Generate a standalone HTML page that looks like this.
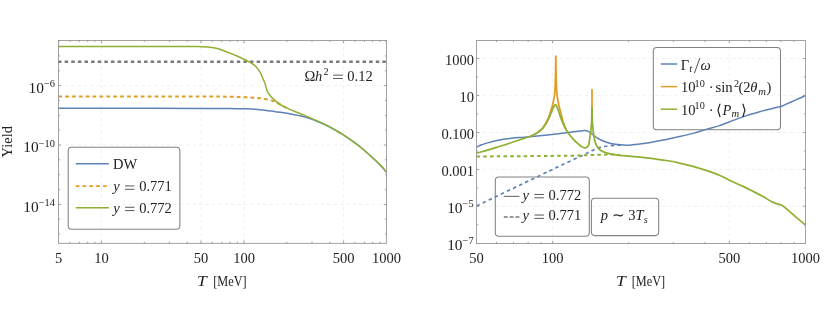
<!DOCTYPE html>
<html><head><meta charset="utf-8"><title>plot</title>
<style>html,body{margin:0;padding:0;background:#fff}svg{display:block;will-change:transform}</style></head>
<body>
<svg width="830" height="317" viewBox="0 0 830 317">
<rect width="830" height="317" fill="#fff"/>
<g stroke="#ececec" stroke-width="0.8" stroke-dasharray="3.2 3.2" fill="none">
<path d="M101.4,40.5 V243.3"/>
<path d="M201.0,40.5 V243.3"/>
<path d="M244.0,40.5 V243.3"/>
<path d="M343.6,40.5 V243.3"/>
<path d="M58.5,85.6 H386.5"/>
<path d="M58.5,145.0 H386.5"/>
<path d="M58.5,204.4 H386.5"/>
</g>
<path d="M58.0,61.8 H386.5" stroke="#7a7a7a" stroke-width="2.6" stroke-dasharray="3.5 3.12" fill="none"/>
<path d="M58.0,108.3 C73.3,108.3 126.3,108.3 150.0,108.3 C173.7,108.3 186.7,108.4 200.0,108.4 C213.3,108.5 222.5,108.5 230.0,108.6 C237.5,108.7 240.0,108.6 245.0,108.8 C250.0,109.0 255.1,109.2 260.2,109.7 C265.2,110.2 270.2,111.0 275.3,111.7 C280.4,112.4 285.8,113.1 290.5,113.9 C295.2,114.7 299.2,115.4 303.3,116.5 C307.4,117.6 311.2,119.0 314.9,120.4 C318.5,121.8 321.4,122.9 325.2,124.7 C329.0,126.5 334.6,129.7 337.8,131.5 C341.0,133.3 342.0,134.0 344.1,135.3 C346.2,136.7 348.3,138.1 350.4,139.6 C352.5,141.1 354.6,142.5 356.7,144.1 C358.8,145.7 360.9,147.4 363.0,149.2 C365.1,151.0 367.2,152.8 369.3,154.7 C371.4,156.6 373.5,158.5 375.6,160.5 C377.7,162.5 380.1,164.8 381.9,166.8 C383.7,168.8 385.7,171.4 386.5,172.3" stroke="#5e81b5" stroke-width="1.5" fill="none"/>
<path d="M58.5,96.5 C82.1,96.5 171.4,96.5 200.0,96.5 C228.6,96.5 222.5,96.7 230.0,96.8 C237.5,96.9 240.5,97.0 245.0,97.2 C249.5,97.4 253.8,97.6 257.1,97.9 C260.4,98.2 262.2,98.5 264.7,99.0 C267.2,99.5 270.1,100.1 272.3,100.8 C274.5,101.5 275.8,102.1 277.6,103.0 C279.4,103.9 281.2,105.2 282.9,106.1 C284.6,107.0 287.1,108.2 288.0,108.6" stroke="#e19c24" stroke-width="2.0" stroke-dasharray="3.7 3.155" fill="none"/>
<path d="M58.0,46.4 C79.2,46.4 162.2,46.4 185.0,46.4 C207.8,46.4 192.5,46.5 195.0,46.5 C197.5,46.5 198.1,46.6 200.1,46.7 C202.1,46.8 204.5,46.8 207.0,47.0 C209.5,47.2 212.4,47.4 215.0,47.9 C217.6,48.4 220.1,49.3 222.6,50.2 C225.1,51.1 227.6,52.1 230.1,53.1 C232.6,54.1 235.4,55.3 237.7,56.3 C240.0,57.3 242.1,58.3 244.0,59.2 C245.9,60.1 247.3,60.8 249.0,61.8 C250.7,62.8 252.6,63.9 254.1,65.1 C255.6,66.3 256.8,67.4 257.9,68.9 C259.0,70.4 260.2,72.4 261.0,73.9 C261.8,75.4 262.1,76.6 262.7,78.0 C263.3,79.4 264.0,81.0 264.5,82.3 C265.0,83.6 265.2,84.2 265.6,85.6 C266.0,87.0 266.4,89.1 267.0,90.5 C267.6,91.9 268.2,92.8 269.2,94.2 C270.2,95.6 271.6,97.4 273.0,98.8 C274.4,100.2 276.0,101.4 277.6,102.6 C279.2,103.8 280.8,104.9 282.9,106.1 C285.0,107.3 288.0,108.5 290.5,109.6 C293.0,110.7 295.9,111.8 298.0,112.7 C300.1,113.6 300.9,113.9 303.3,114.9 C305.7,115.9 309.0,117.3 312.6,118.9 C316.2,120.5 321.0,122.6 325.2,124.7 C329.4,126.8 334.6,129.7 337.8,131.5 C341.0,133.3 342.0,134.0 344.1,135.3 C346.2,136.7 348.3,138.1 350.4,139.6 C352.5,141.1 354.6,142.5 356.7,144.1 C358.8,145.7 360.9,147.4 363.0,149.2 C365.1,151.0 367.2,152.8 369.3,154.7 C371.4,156.6 373.5,158.5 375.6,160.5 C377.7,162.5 380.1,164.8 381.9,166.8 C383.7,168.8 385.7,171.4 386.5,172.3" stroke="#8fb032" stroke-width="1.5" fill="none" stroke-linejoin="round"/>
<g stroke="#8c8c8c" stroke-width="0.8" fill="none">
<rect x="58.5" y="40.5" width="328.0" height="202.8"/>
<path d="M69.8,243.3 v-1.6 M69.8,40.5 v1.6 M79.3,243.3 v-1.6 M79.3,40.5 v1.6 M87.6,243.3 v-1.6 M87.6,40.5 v1.6 M94.9,243.3 v-1.6 M94.9,40.5 v1.6 M144.3,243.3 v-1.6 M144.3,40.5 v1.6 M169.4,243.3 v-1.6 M169.4,40.5 v1.6 M187.2,243.3 v-1.6 M187.2,40.5 v1.6 M212.3,243.3 v-1.6 M212.3,40.5 v1.6 M221.9,243.3 v-1.6 M221.9,40.5 v1.6 M230.1,243.3 v-1.6 M230.1,40.5 v1.6 M237.4,243.3 v-1.6 M237.4,40.5 v1.6 M286.9,243.3 v-1.6 M286.9,40.5 v1.6 M312.0,243.3 v-1.6 M312.0,40.5 v1.6 M329.8,243.3 v-1.6 M329.8,40.5 v1.6 M354.9,243.3 v-1.6 M354.9,40.5 v1.6 M364.4,243.3 v-1.6 M364.4,40.5 v1.6 M372.7,243.3 v-1.6 M372.7,40.5 v1.6 M380.0,243.3 v-1.6 M380.0,40.5 v1.6 M101.4,243.3 v-2.7 M101.4,40.5 v2.7 M201.0,243.3 v-2.7 M201.0,40.5 v2.7 M244.0,243.3 v-2.7 M244.0,40.5 v2.7 M343.6,243.3 v-2.7 M343.6,40.5 v2.7 M58.5,234.1 h1.6 M386.5,234.1 h-1.6 M58.5,219.2 h1.6 M386.5,219.2 h-1.6 M58.5,204.4 h2.7 M386.5,204.4 h-2.7 M58.5,189.6 h1.6 M386.5,189.6 h-1.6 M58.5,174.7 h1.6 M386.5,174.7 h-1.6 M58.5,159.8 h1.6 M386.5,159.8 h-1.6 M58.5,145.0 h2.7 M386.5,145.0 h-2.7 M58.5,130.1 h1.6 M386.5,130.1 h-1.6 M58.5,115.3 h1.6 M386.5,115.3 h-1.6 M58.5,100.4 h1.6 M386.5,100.4 h-1.6 M58.5,85.6 h2.7 M386.5,85.6 h-2.7 M58.5,70.8 h1.6 M386.5,70.8 h-1.6 M58.5,55.9 h1.6 M386.5,55.9 h-1.6 M58.5,41.0 h1.6 M386.5,41.0 h-1.6"/>
</g>
<g font-family="Liberation Serif, serif" font-size="14.5" fill="#222">
<text x="58.5" y="262.6" text-anchor="middle">5</text>
<text x="101.4" y="262.6" text-anchor="middle">10</text>
<text x="201.0" y="262.6" text-anchor="middle">50</text>
<text x="244.0" y="262.6" text-anchor="middle">100</text>
<text x="343.6" y="262.6" text-anchor="middle">500</text>
<text x="386.5" y="262.6" text-anchor="middle">1000</text>
<text x="55" y="93.0" text-anchor="end" font-size="15.4">10<tspan font-size="10.4" dy="-5.8">−6</tspan></text>
<text x="55" y="152.4" text-anchor="end" font-size="15.4">10<tspan font-size="10.4" dy="-5.8">−10</tspan></text>
<text x="55" y="211.8" text-anchor="end" font-size="15.4">10<tspan font-size="10.4" dy="-5.8">−14</tspan></text>
<text x="196.9" y="285.7" font-style="italic" textLength="9.8" lengthAdjust="spacingAndGlyphs">T</text><text x="213.2" y="285.7" textLength="33.4" lengthAdjust="spacingAndGlyphs">[MeV]</text>
<text transform="translate(12.2,141.8) rotate(-90)" text-anchor="middle">Yield</text>
<text x="304.6" y="80.5">Ω</text><text x="315" y="80.5" font-style="italic">h</text><text x="323.4" y="75.2" font-size="10.2">2</text><path d="M333.0,75.15 H342.8 M333.0,78.50 H342.8" stroke="#222" stroke-width="0.75" fill="none"/><text x="347.3" y="80.5">0.12</text>
</g>
<rect x="68.2" y="147.2" width="111.7" height="82.1" rx="3.5" fill="none" stroke="#828282" stroke-width="1.05"/>
<path d="M75.8,163.7 H108.9" stroke="#5e81b5" stroke-width="1.5"/>
<path d="M75.8,186.2 H108.9" stroke="#e19c24" stroke-width="1.8" stroke-dasharray="3.6 3.2"/>
<path d="M75.8,207.8 H108.9" stroke="#8fb032" stroke-width="1.5"/>
<g font-family="Liberation Serif, serif" font-size="14.5" fill="#222">
<text x="113" y="169.2">DW</text>
<text x="113.2" y="191.3" font-style="italic">y</text><path d="M125.0,185.95 H134.5 M125.0,189.30 H134.5" stroke="#222" stroke-width="0.75" fill="none"/><text x="139.2" y="191.3">0.771</text>
<text x="113.2" y="212.6" font-style="italic">y</text><path d="M125.0,207.25 H134.5 M125.0,210.60 H134.5" stroke="#222" stroke-width="0.75" fill="none"/><text x="139.2" y="212.6">0.772</text>
</g>
<g stroke="#ececec" stroke-width="0.8" stroke-dasharray="3.2 3.2" fill="none">
<path d="M552.6,40.5 V243.6"/>
<path d="M729.4,40.5 V243.6"/>
<path d="M476.5,58.5 H805.5"/>
<path d="M476.5,95.4 H805.5"/>
<path d="M476.5,132.5 H805.5"/>
<path d="M476.5,169.4 H805.5"/>
<path d="M476.5,206.2 H805.5"/>
</g>
<g fill="none" stroke="#828282" stroke-width="1.05">
<rect x="653.3" y="47.5" width="127.2" height="82.3" rx="3.5"/>
<rect x="495.3" y="176.9" width="94.0" height="59.3" rx="3.5"/>
<rect x="591.4" y="198.2" width="67.3" height="37.4" rx="3.5"/>
</g>
<path d="M476.8,147.1 C477.5,146.8 479.4,145.7 481.0,145.0 C482.6,144.3 483.6,143.9 486.6,143.1 C489.6,142.3 495.0,140.9 499.2,140.1 C503.4,139.3 507.7,138.8 511.9,138.3 C516.1,137.8 520.3,137.6 524.5,137.2 C528.7,136.8 532.2,136.6 537.1,136.1 C542.0,135.6 549.5,134.8 554.0,134.3 C558.5,133.8 560.1,133.5 564.1,133.0 C568.1,132.5 574.3,131.6 577.7,131.2 C581.1,130.8 582.8,130.5 584.5,130.5 C586.2,130.5 586.7,130.6 587.9,131.2 C589.1,131.8 590.4,132.7 591.9,133.8 C593.4,134.9 595.0,136.6 597.0,137.8 C599.0,139.0 601.6,140.3 603.9,141.2 C606.2,142.1 608.4,142.8 610.7,143.4 C613.0,144.0 615.2,144.3 617.5,144.6 C619.8,144.9 622.0,145.0 624.3,145.1 C626.6,145.2 628.3,145.1 631.1,144.9 C633.9,144.7 637.6,144.2 641.3,143.7 C645.0,143.2 649.0,142.7 653.2,142.0 C657.4,141.3 662.1,140.3 666.5,139.4 C670.9,138.5 675.3,137.6 679.7,136.6 C684.1,135.6 688.6,134.6 693.0,133.4 C697.4,132.2 701.8,130.7 706.2,129.4 C710.6,128.1 715.0,127.1 719.5,125.6 C724.0,124.1 728.7,122.1 733.2,120.4 C737.7,118.7 742.1,117.0 746.5,115.6 C750.9,114.1 755.3,112.9 759.7,111.7 C764.1,110.5 769.9,109.1 773.0,108.3 C776.1,107.5 777.1,107.4 778.5,107.1 C779.9,106.8 780.2,106.8 781.5,106.3 C782.8,105.8 784.5,105.0 786.0,104.3 C787.5,103.6 788.4,103.2 790.6,102.2 C792.9,101.2 797.0,99.4 799.5,98.3 C802.0,97.2 804.5,96.0 805.5,95.6" stroke="#5e81b5" stroke-width="1.5" fill="none"/>
<path d="M476.7,205.9 C487.2,200.8 524.5,182.9 540.0,175.4 C555.5,167.9 562.8,164.6 570.0,161.2 C577.2,157.8 580.0,156.5 583.4,154.9 C586.8,153.3 587.9,152.7 590.2,151.6 C592.5,150.5 594.7,149.3 597.0,148.5 C599.3,147.7 601.0,147.0 603.9,146.5 C606.8,146.0 610.8,145.5 614.1,145.3 C617.5,145.1 622.4,145.2 624.0,145.2" stroke="#5e81b5" stroke-width="1.7" stroke-dasharray="3.5 3.2" fill="none"/>
<path d="M476.7,156.5 C487.2,156.4 523.6,156.2 540.0,156.0 C556.4,155.8 565.5,155.8 575.0,155.6 C584.5,155.4 590.5,155.0 597.0,154.8 C603.5,154.6 610.2,154.6 614.0,154.6 C617.8,154.6 619.0,154.9 620.0,155.0" stroke="#8fb032" stroke-width="2.0" stroke-dasharray="3.5 3.2" fill="none"/>
<path d="M537.1,133.0 L542.1,128.7 L545.8,123.3 L548.4,117.8 L550.6,111.5 L552.3,106.0 L553.6,100.5 L554.6,94.6 L555.1,87.5 L555.5,75.0 L555.8,55.6 L556.1,75.0 L556.5,87.5 L557.0,94.6 L557.9,100.5 L559.0,106.0 L560.2,110.5 L561.8,116.7 L563.4,122.9 L566.3,130.0" stroke="#e19c24" stroke-width="1.75" fill="none" stroke-linejoin="miter" stroke-miterlimit="20"/>
<path d="M592.0,107.0 L592.0,89.0" stroke="#e19c24" stroke-width="1.75" fill="none"/>
<path d="M476.8,153.1 C478.4,152.6 482.9,151.4 486.6,150.3 C490.3,149.2 495.0,147.8 499.2,146.5 C503.4,145.2 507.7,143.9 511.9,142.5 C516.1,141.1 521.4,139.4 524.5,138.3 C527.6,137.2 528.7,136.9 530.8,136.0 C532.9,135.1 535.2,134.2 537.1,133.0 C539.0,131.8 540.8,130.4 542.3,128.9 C543.8,127.4 544.9,125.5 546.0,123.8 C547.1,122.1 547.9,120.3 548.7,118.5 C549.5,116.7 550.2,115.0 551.0,113.2 C551.8,111.4 552.5,109.3 553.2,107.9 C553.9,106.5 554.6,105.5 555.0,104.9 C555.4,104.3 555.6,104.5 555.7,104.4" stroke="#8fb032" stroke-width="1.75" fill="none"/>
<path d="M555.7,104.4 C555.9,104.7 556.2,105.1 556.6,106.1 C557.0,107.1 557.8,108.9 558.4,110.5 C559.0,112.1 559.4,113.8 560.1,115.9 C560.8,118.0 561.8,120.6 562.8,122.9 C563.8,125.2 565.1,127.9 566.3,130.0 C567.5,132.1 568.7,133.7 569.9,135.3 C571.1,136.9 572.1,138.1 573.4,139.4 C574.7,140.8 576.4,142.3 577.7,143.4 C579.0,144.5 579.8,145.4 581.0,146.2 C582.2,146.9 583.9,148.1 585.1,147.9 C586.4,147.8 587.7,147.0 588.5,145.3 C589.3,143.7 589.4,140.6 589.8,138.0 C590.2,135.4 590.6,132.7 590.9,130.0 C591.2,127.3 591.4,125.8 591.6,122.0 C591.8,118.2 591.9,109.5 592.0,107.0" stroke="#8fb032" stroke-width="1.75" fill="none"/>
<path d="M592.0,107.0 C592.1,109.5 592.2,118.2 592.4,122.0 C592.6,125.8 592.8,127.3 593.1,130.0 C593.4,132.7 593.7,135.5 594.2,138.0 C594.7,140.5 595.2,142.8 596.2,144.8 C597.2,146.8 598.5,148.8 600.4,150.2 C602.2,151.6 604.4,152.3 607.3,153.1 C610.1,153.9 613.5,154.5 617.5,155.1 C621.5,155.7 627.4,156.1 631.1,156.4 C634.9,156.7 636.3,156.7 640.0,157.1 C643.7,157.5 648.8,158.1 653.2,158.7 C657.6,159.3 662.1,159.8 666.5,160.5 C670.9,161.2 675.3,162.1 679.7,163.1 C684.1,164.1 688.6,165.2 693.0,166.4 C697.4,167.6 701.7,168.9 706.2,170.4 C710.7,171.9 715.9,173.7 720.0,175.5 C724.1,177.3 727.3,179.3 731.0,181.0 C734.7,182.7 738.4,184.2 742.1,185.9 C745.8,187.6 749.6,189.6 753.1,191.4 C756.6,193.2 760.0,194.8 763.0,196.5 C766.0,198.2 768.6,200.1 770.8,201.3 C773.0,202.5 774.5,202.9 776.3,203.6 C778.1,204.3 780.1,204.5 781.8,205.3 C783.4,206.1 784.0,206.8 786.2,208.6 C788.4,210.4 791.9,213.7 795.1,216.4 C798.3,219.1 803.7,223.4 805.4,224.8" stroke="#8fb032" stroke-width="1.75" fill="none"/>
<g stroke="#8c8c8c" stroke-width="0.8" fill="none">
<rect x="476.5" y="40.5" width="329.0" height="203.1"/>
<path d="M496.5,243.6 v-1.6 M496.5,40.5 v1.6 M513.5,243.6 v-1.6 M513.5,40.5 v1.6 M528.1,243.6 v-1.6 M528.1,40.5 v1.6 M541.1,243.6 v-1.6 M541.1,40.5 v1.6 M628.7,243.6 v-1.6 M628.7,40.5 v1.6 M673.3,243.6 v-1.6 M673.3,40.5 v1.6 M704.9,243.6 v-1.6 M704.9,40.5 v1.6 M749.4,243.6 v-1.6 M749.4,40.5 v1.6 M766.3,243.6 v-1.6 M766.3,40.5 v1.6 M781.0,243.6 v-1.6 M781.0,40.5 v1.6 M793.9,243.6 v-1.6 M793.9,40.5 v1.6 M552.6,243.6 v-2.7 M552.6,40.5 v2.7 M729.4,243.6 v-2.7 M729.4,40.5 v2.7 M476.5,224.7 h1.6 M805.5,224.7 h-1.6 M476.5,206.2 h2.7 M805.5,206.2 h-2.7 M476.5,187.8 h1.6 M805.5,187.8 h-1.6 M476.5,169.4 h2.7 M805.5,169.4 h-2.7 M476.5,151.0 h1.6 M805.5,151.0 h-1.6 M476.5,132.5 h2.7 M805.5,132.5 h-2.7 M476.5,113.8 h1.6 M805.5,113.8 h-1.6 M476.5,95.4 h2.7 M805.5,95.4 h-2.7 M476.5,76.9 h1.6 M805.5,76.9 h-1.6 M476.5,58.5 h2.7 M805.5,58.5 h-2.7"/>
</g>
<g font-family="Liberation Serif, serif" font-size="14.5" fill="#222">
<text x="476.5" y="262.6" text-anchor="middle">50</text>
<text x="552.6" y="262.6" text-anchor="middle">100</text>
<text x="729.4" y="262.6" text-anchor="middle">500</text>
<text x="805.5" y="262.6" text-anchor="middle">1000</text>
<text x="474" y="65.1" text-anchor="end">1000</text>
<text x="474" y="102.0" text-anchor="end">10</text>
<text x="474" y="139.1" text-anchor="end">0.100</text>
<text x="474" y="176.0" text-anchor="end">0.001</text>
<text x="473.6" y="213.0" text-anchor="end" font-size="15.4">10<tspan font-size="10.4" dy="-5.8">−5</tspan></text>
<text x="473.6" y="249.9" text-anchor="end" font-size="15.4">10<tspan font-size="10.4" dy="-5.8">−7</tspan></text>
<text x="616.0" y="285.7" font-style="italic" textLength="9.8" lengthAdjust="spacingAndGlyphs">T</text><text x="631.7" y="285.7" textLength="33.4" lengthAdjust="spacingAndGlyphs">[MeV]</text>
<text x="680.8" y="69.9">Γ</text><text x="689.2" y="72.2" font-size="10.6" font-style="italic">t</text><path d="M694.4,73.10000000000001 L699.9,58.00000000000001" stroke="#222" stroke-width="0.8" fill="none"/><text x="700.6" y="69.9" font-style="italic">ω</text>
<text x="681" y="92.4">10</text><text x="694.6" y="86.9" font-size="10.2">10</text><text x="708.7" y="92.4">·</text><text x="715.4" y="92.4" textLength="17.3" lengthAdjust="spacingAndGlyphs">sin</text><text x="734.0" y="86.9" font-size="10.2">2</text><text x="738.5" y="92.4">(2</text><text x="750.2" y="92.4" font-style="italic">θ</text><text x="758.2" y="94.9" font-size="10.6" font-style="italic">m</text><text x="766.6" y="92.4">)</text>
<text x="681" y="114.9">10</text><text x="694.6" y="109.4" font-size="10.2">10</text><text x="708.7" y="114.9">·</text><text x="716.4" y="114.9">⟨</text><text x="722.6" y="114.9" font-style="italic">P</text><text x="731.6" y="117.4" font-size="10.6" font-style="italic">m</text><text x="740.8" y="114.9">⟩</text>
<text x="522.6" y="199.8" font-style="italic">y</text><path d="M534.4,194.45 H543.9 M534.4,197.80 H543.9" stroke="#222" stroke-width="0.75" fill="none"/><text x="548.6" y="199.8">0.772</text>
<text x="522.6" y="220.4" font-style="italic">y</text><path d="M534.4,215.05 H543.9 M534.4,218.40 H543.9" stroke="#222" stroke-width="0.75" fill="none"/><text x="548.6" y="220.4">0.771</text>
<text x="600.8" y="220.4"><tspan font-style="italic">p</tspan> ∼ 3<tspan font-style="italic">T</tspan><tspan font-size="10.2" font-style="italic" dy="2.5">s</tspan></text>
</g>
<path d="M660.8,64 H677.2" stroke="#5e81b5" stroke-width="1.5"/>
<path d="M660.8,86.6 H677.2" stroke="#e19c24" stroke-width="1.5"/>
<path d="M660.8,109.2 H677.2" stroke="#8fb032" stroke-width="1.5"/>
<path d="M503.8,196.4 H519.4" stroke="#777" stroke-width="1.2"/>
<path d="M503.8,216.9 H519.4" stroke="#777" stroke-width="1.5" stroke-dasharray="3.9 1.95"/>
</svg>
</body></html>
